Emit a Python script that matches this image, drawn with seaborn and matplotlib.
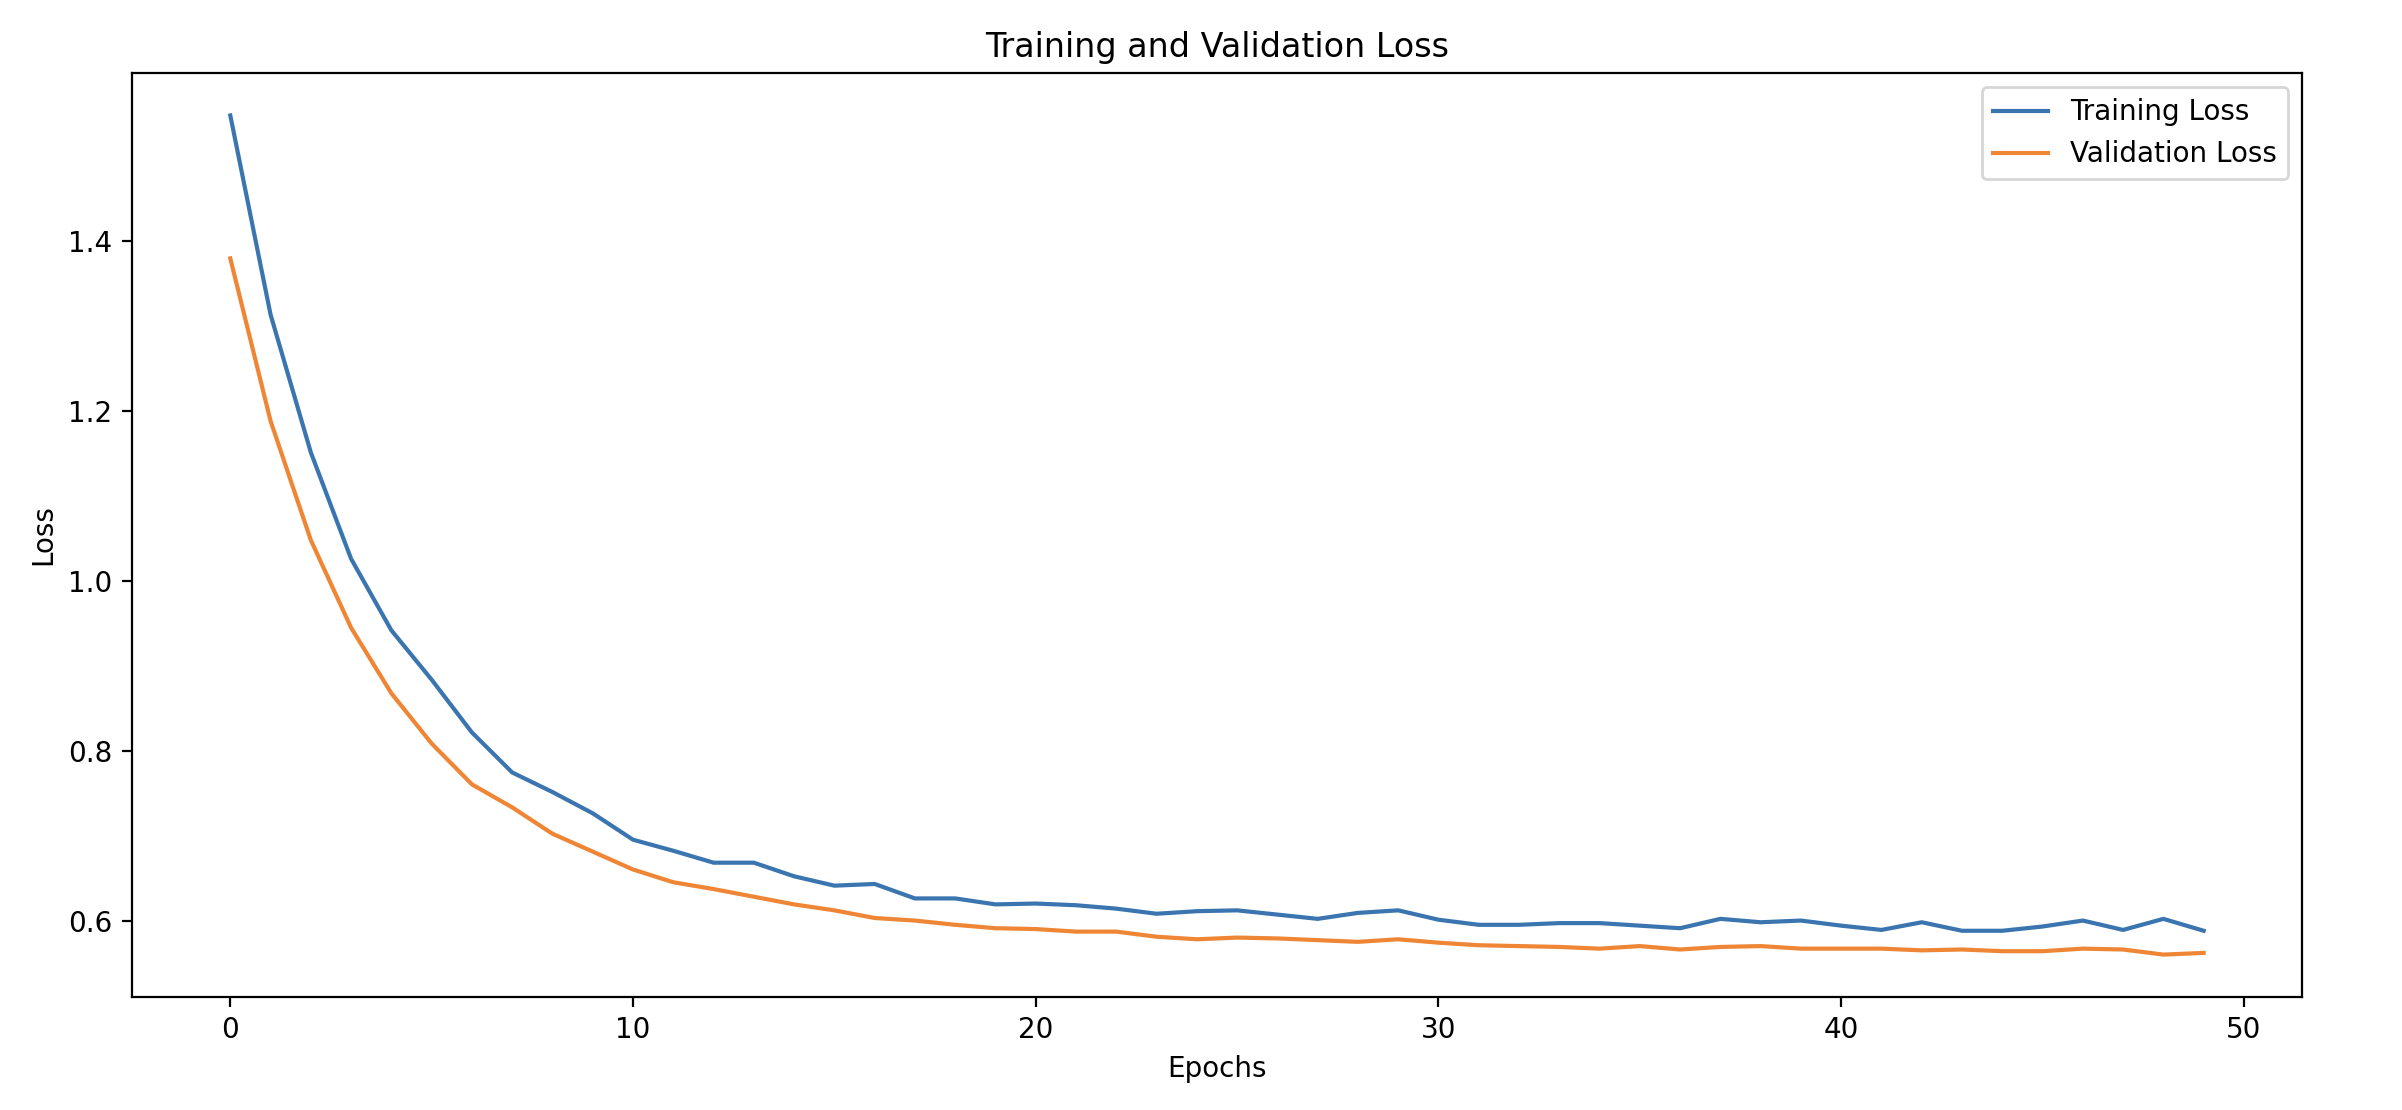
import numpy as np
import pandas as pd
import matplotlib
matplotlib.use("Agg")
import matplotlib.pyplot as plt
import seaborn as sns

# valeurs
epochs = list(range(50))

train_loss = [1.547, 1.313, 1.151, 1.026, 0.942, 0.884, 0.822, 0.775, 0.752, 0.727,
              0.696, 0.683, 0.669, 0.669, 0.653, 0.642, 0.644, 0.627, 0.627, 0.620,
              0.621, 0.619, 0.615, 0.609, 0.612, 0.613, 0.608, 0.603, 0.610, 0.613,
              0.602, 0.596, 0.596, 0.598, 0.598, 0.595, 0.592, 0.603, 0.599, 0.601,
              0.595, 0.590, 0.599, 0.589, 0.589, 0.594, 0.601, 0.590, 0.603, 0.589]

val_loss = [1.379, 1.188, 1.048, 0.945, 0.868, 0.809, 0.761, 0.734, 0.703, 0.682,
            0.661, 0.646, 0.638, 0.629, 0.620, 0.613, 0.604, 0.601, 0.596, 0.592,
            0.591, 0.588, 0.588, 0.582, 0.579, 0.581, 0.580, 0.578, 0.576, 0.579,
            0.575, 0.572, 0.571, 0.570, 0.568, 0.571, 0.567, 0.570, 0.571, 0.568,
            0.568, 0.568, 0.566, 0.567, 0.565, 0.565, 0.568, 0.567, 0.561, 0.563]

fig, ax = plt.subplots(figsize=(12.01, 5.55), dpi=200)

sns.lineplot(x=epochs, y=train_loss, label="Training Loss", color="#3b75af", ax=ax)
sns.lineplot(x=epochs, y=val_loss, label="Validation Loss", color="#ef8636", ax=ax)

ax.set_title("Training and Validation Loss")
ax.set_xlabel("Epochs")
ax.set_ylabel("Loss")
ax.legend(loc="upper right")

plt.subplots_adjust(left=0.0548, right=0.9585, top=0.9338, bottom=0.1022)
plt.savefig("out.png", dpi=200)
plt.close()
